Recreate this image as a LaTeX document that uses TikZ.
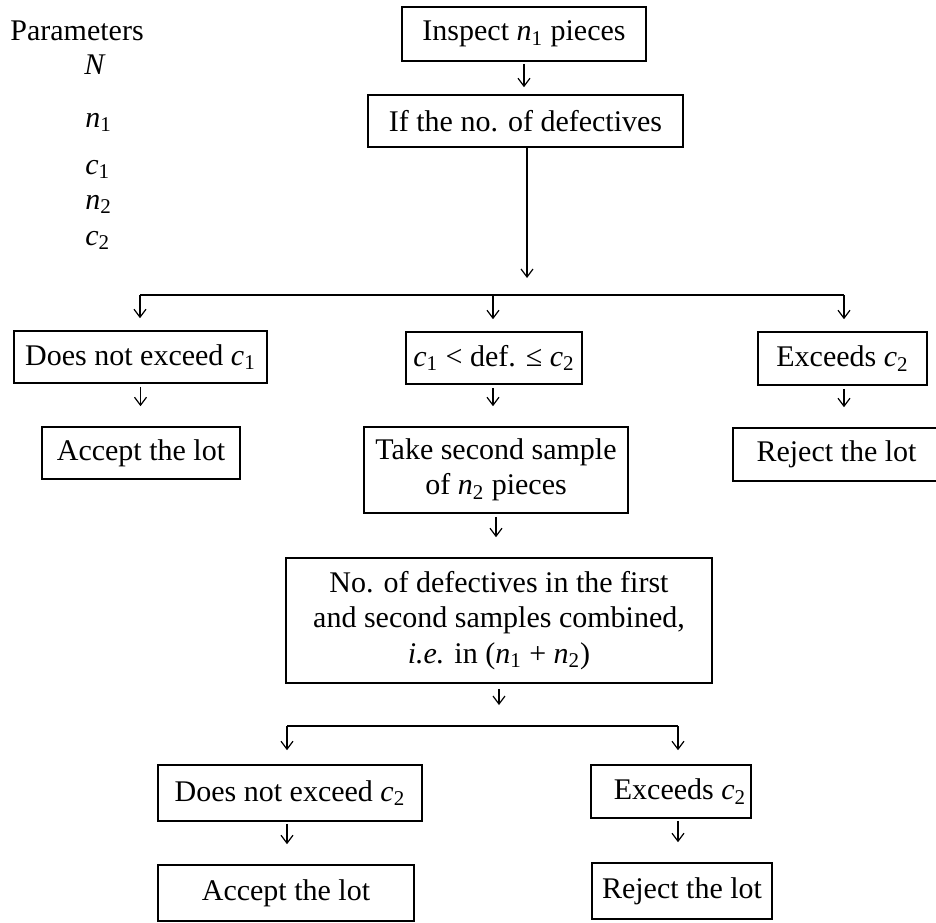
\documentclass[tikz,border=0pt]{standalone}
\usepackage{fontspec}
\setmainfont{Liberation Serif}
\usetikzlibrary{arrows.meta,calc}
\newcommand\vsub[2]{\textit{#1}\textsubscript{#2}}
\tikzset{
  txt/.style={font=\fontsize{15}{17.6}\selectfont, inner sep=0pt},
  box/.style={txt, draw=black, line width=0.8pt, align=center},
  conn/.style={line width=0.6pt, draw=black},
  arr/.style={conn, -{Straight Barb[length=4pt,width=6pt,line width=0.6pt]}},
}
\begin{document}
\begin{tikzpicture}[x=0.5pt,y=-0.5pt]
\useasboundingbox (0,0) rectangle (936,922);
\fill[white] (0,0) rectangle (936,922);

% parameters
\node[txt, anchor=base west] (par) at (10,40) {Parameters};
\node[txt, anchor=base west] (pN) at (84,74) {\textit{N}};
\node[txt, anchor=base west] (pn1) at (85,127) {\vsub{n}{1}};
\node[txt, anchor=base west] (pc1) at (85,174) {\vsub{c}{1}};
\node[txt, anchor=base west] (pn2) at (85,209) {\vsub{n}{2}};
\node[txt, anchor=base west] (pc2) at (85,245) {\vsub{c}{2}};

% boxes
\node[box, minimum width=122pt, minimum height=27pt] (ins) at (524,34) {Inspect \vsub{n}{1} pieces};
\node[box, minimum width=157.5pt, minimum height=26pt] (iff) at (525.5,121) {If the no. of defectives};
\node[box, minimum width=126.5pt, minimum height=26pt] (dne1) at (140.5,357) {Does not exceed \vsub{c}{1}};
\node[box, minimum width=88pt, minimum height=26pt] (mid) at (494,358) {\vsub{c}{1} < def. ≤ \vsub{c}{2}};
\node[box, minimum width=84.5pt, minimum height=26.5pt] (exc1) at (842.5,358.5) {Exceeds \vsub{c}{2}};
\node[box, minimum width=99pt, minimum height=26pt] (acc1) at (141,453) {Accept the lot};
\node[box, minimum width=132pt, minimum height=43pt] (take) at (496,470) {Take second sample\\of \vsub{n}{2} pieces};
\node[box, minimum width=103.5pt, minimum height=26.5pt] (rej1) at (836.5,454.5) {Reject the lot};
\node[box, minimum width=213pt, minimum height=62.5pt] (big) at (499,620.5) {No. of defectives in the first\\and second samples combined,\\\textit{i.e.} in (\vsub{n}{1} + \vsub{n}{2})};
\node[box, minimum width=132pt, minimum height=28pt] (dne2) at (290,793) {Does not exceed \vsub{c}{2}};
\node[box, minimum width=80pt, minimum height=26.5pt] (exc2) at (671,791.5) {\hspace{9pt}Exceeds \vsub{c}{2}};
\node[box, minimum width=128pt, minimum height=28pt] (acc2) at (286,893) {Accept the lot};
\node[box, minimum width=90pt, minimum height=28pt] (rej2) at (682,891) {Reject the lot};

% junction coordinates
\coordinate (j1) at (527,278);
\coordinate (b1) at (140,295);
\coordinate (b2) at (493,295);
\coordinate (b3) at (844,295);
\coordinate (j2) at (499,705);
\coordinate (b4) at (287,726);
\coordinate (b5) at (678,726);

% connectors
\draw[arr, shorten <=1pt, shorten >=3.5pt] (ins) -- (ins.south |- iff.north);
\draw[arr] (iff.south -| j1) -- (j1);
\draw[conn] (b1) -- (b3);
\draw[arr, shorten >=6pt] (b1) -- (b1 |- dne1.north);
\draw[arr, shorten >=6pt] (b2) -- (b2 |- mid.north);
\draw[arr, shorten >=6pt] (b3) -- (b3 |- exc1.north);
\draw[arr, shorten <=1.5pt, shorten >=10pt] (dne1.south) -- (dne1.south |- acc1.north);
\draw[arr, shorten <=1.5pt, shorten >=10pt] (b2 |- mid.south) -- (b2 |- take.north);
\draw[arr, shorten <=1.5pt, shorten >=10pt] (b3 |- exc1.south) -- (b3 |- rej1.north);
\draw[arr, shorten <=1.5pt, shorten >=10pt] (take.south) -- (take.south |- big.north);
\draw[arr, shorten <=2.5pt] (big.south) -- (j2);
\draw[conn] (b4) -- (b5);
\draw[arr, shorten >=7pt] (b4) -- (b4 |- dne2.north);
\draw[arr, shorten >=7pt] (b5) -- (b5 |- exc2.north);
\draw[arr, shorten <=1pt, shorten >=10pt] (b4 |- dne2.south) -- (b4 |- acc2.north);
\draw[arr, shorten <=1pt, shorten >=10pt] (b5 |- exc2.south) -- (b5 |- rej2.north);
\end{tikzpicture}
\end{document}
